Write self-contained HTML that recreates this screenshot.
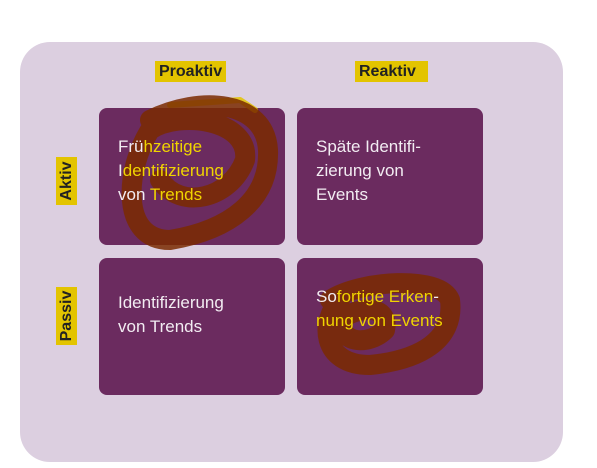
<!DOCTYPE html>
<html><head><style>
body{margin:0;width:597px;height:468px;background:#fff;position:relative;overflow:hidden;font-family:"Liberation Sans",sans-serif}
.outer{position:absolute;left:20px;top:42px;width:543px;height:420px;background:#dccfe0;border-radius:30px}
.bg{position:absolute;width:186px;height:137px;background:#6b2b5f;border-radius:8px}
.box{position:absolute;width:186px;height:137px;color:#f2ecf2;font-size:17px;line-height:24px;box-sizing:border-box;padding:27px 0 0 19px}
.y{color:#f0d400}
.lab{position:absolute;font-weight:bold;font-size:16px;color:#222}
.hl{background:#e3c400;padding:2px 4px}
</style></head><body>
<div class="outer"></div>
<div class="lab" style="left:155px;top:63px"><span class="hl">Proaktiv</span></div>
<div class="lab" style="left:355px;top:63px"><span class="hl" style="padding-right:12px">Reaktiv</span></div>
<div class="lab" style="left:42px;top:172px;transform:rotate(-90deg);width:50px;text-align:center"><span class="hl">Aktiv</span></div>
<div class="lab" style="left:37px;top:307px;transform:rotate(-90deg);width:60px;text-align:center"><span class="hl">Passiv</span></div>
<div class="bg" style="left:99px;top:108px"></div>
<div class="bg" style="left:297px;top:108px"></div>
<div class="bg" style="left:99px;top:258px"></div>
<div class="bg" style="left:297px;top:258px"></div>
<svg style="position:absolute;left:0;top:0" width="597" height="468">
<g fill="none" stroke="#7a2a00" stroke-opacity="0.85" stroke-linecap="round" stroke-linejoin="round">
<path d="M170 105 L240 100 L255 110" stroke="#e3c400" stroke-width="6"/>
<path d="M150 120 C200 95 265 100 268 150 C270 200 230 230 170 240 C120 240 125 170 150 130 C180 110 250 120 245 160 C230 200 180 210 160 180" stroke-width="20"/>
<path d="M330 300 C360 280 440 275 450 300 C455 340 420 360 370 365 C320 365 320 320 340 300 M340 320 C360 305 390 305 385 330 C370 345 340 345 340 320" stroke-width="20"/>
</g></svg>
<div class="box" style="left:99px;top:108px">Frü<span class="y">hzeitige</span><br>I<span class="y">dentifizierung</span><br>von <span class="y">Trends</span></div>
<div class="box" style="left:297px;top:108px">Späte Identifi-<br>zierung von<br>Events</div>
<div class="box" style="left:99px;top:258px;padding-top:33px">Identifizierung<br>von Trends</div>
<div class="box" style="left:297px;top:258px">So<span class="y">fortige Erken</span>-<br><span class="y">nung von Events</span></div>
</body></html>
